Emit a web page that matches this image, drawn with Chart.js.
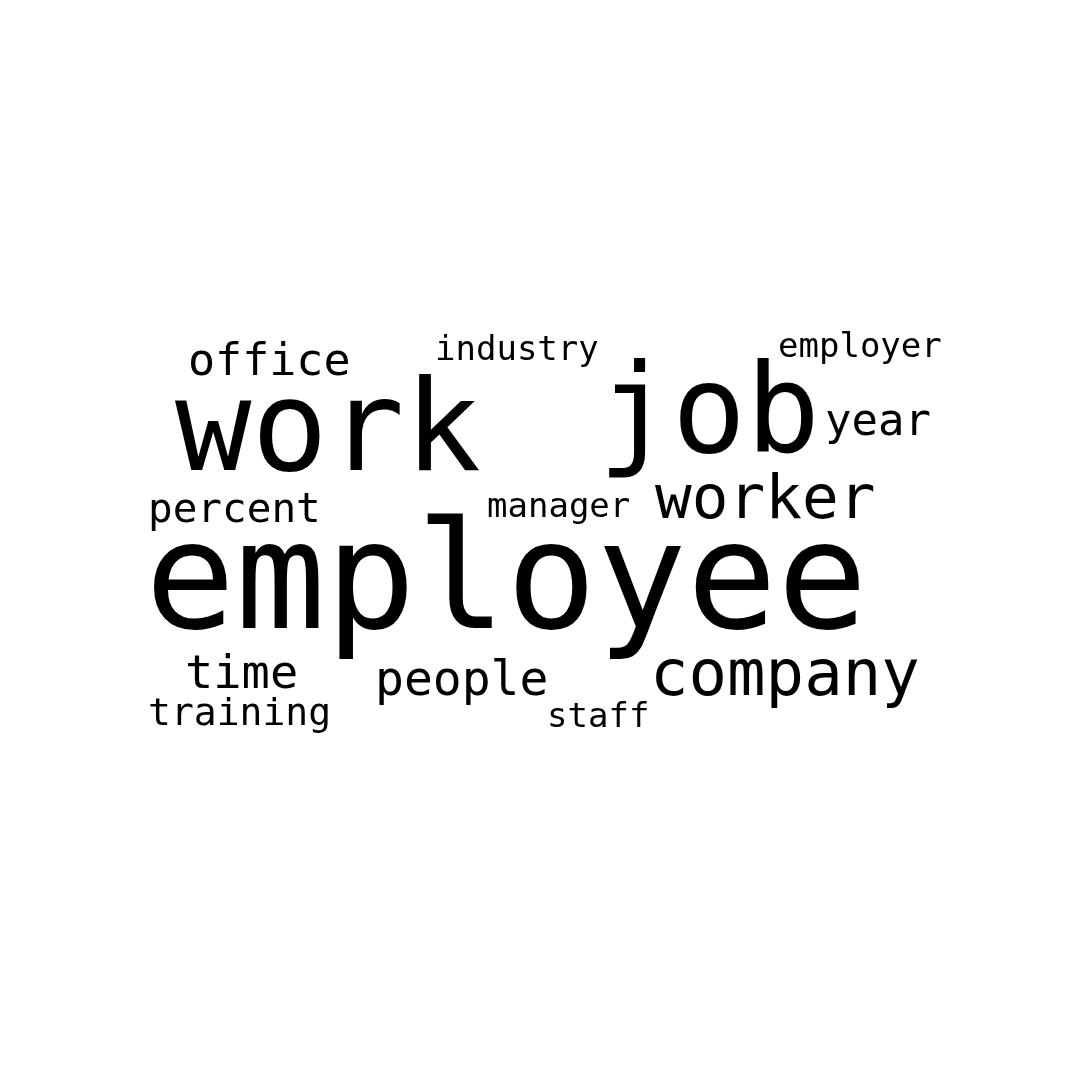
<!DOCTYPE html>
<html><head><meta charset="utf-8">
<script src="https://cdn.jsdelivr.net/npm/chart.js@4/dist/chart.umd.min.js"></script>
<style>html,body{margin:0;padding:0;background:#fff}#w{width:1080px;height:1080px}</style>
</head><body><div id="w"><canvas id="c"></canvas></div>
<script>
const words = ["employee","work","job","worker","company","people","time","office","percent","training","year","industry","employer","manager","staff"];
const sizes = [150,127,123,61,64,48,47,45,41,38,44,34,34,34,34];
const wordX = [145,175,598,655,650,375,185,188,148,148,825,435,778,487,547];
const wordY = [628,470,452,518,695,695,688,375,522,725,435,360,357,517,727];

const cloudPlugin = {
  id:'cloud',
  afterDatasetsDraw(chart){
    const ctx = chart.ctx, xs = chart.scales.x, ys = chart.scales.y;
    ctx.save();
    ctx.fillStyle = '#000';
    ctx.textAlign = 'left';
    ctx.textBaseline = 'alphabetic';
    chart.data.datasets[0].data.forEach((p,i)=>{
      ctx.font = sizes[i] + 'px "DejaVu Sans Mono"';
      ctx.fillText(words[i], xs.getPixelForValue(p.x), ys.getPixelForValue(p.y));
    });
    ctx.restore();
  }
};
new Chart(document.getElementById('c'), {
  type:'scatter',
  data:{datasets:[{data: words.map((w,i)=>({x:wordX[i], y:wordY[i]})), pointRadius:0}]},
  options:{
    responsive:true, maintainAspectRatio:false, animation:false,
    layout:{padding:0},
    plugins:{legend:{display:false}, tooltip:{enabled:false}},
    scales:{
      x:{type:'linear', min:0, max:1080, display:false},
      y:{type:'linear', min:0, max:1080, reverse:true, display:false}
    }
  },
  plugins:[cloudPlugin]
});
</script></body></html>
